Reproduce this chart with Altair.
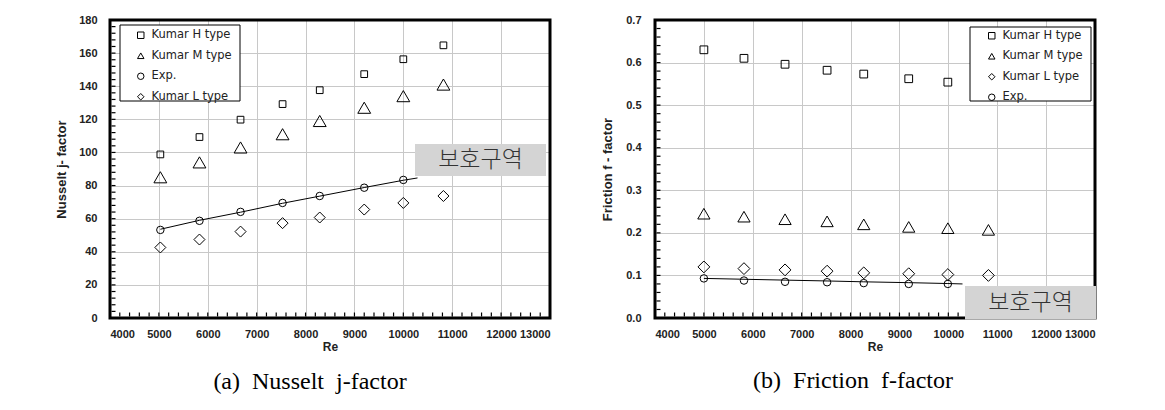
import altair as alt
import pandas as pd

# ---------------- data ----------------
series_H = "Kumar H type"
series_M = "Kumar M type"
series_E = "Exp."
series_L = "Kumar L type"

# (a) Nusselt j-factor
re_a = [5030, 5830, 6670, 7530, 8290, 9200, 10000, 10820]
nu_H = [98.8, 109.3, 119.8, 129.2, 137.6, 147.3, 156.3, 164.7]
nu_M = [85, 94, 103, 111, 119, 127, 134, 141]
nu_L = [42.6, 47.4, 52.2, 57.3, 60.7, 65.5, 69.5, 73.7]
re_a_exp = [5030, 5830, 6670, 7530, 8290, 9200, 10000]
nu_exp = [53.2, 58.7, 64.1, 69.5, 73.7, 78.7, 83.4]
re_a_line = [5030, 5830, 6670, 7530, 8290, 9200, 10000, 10290]
nu_line = [53.6, 59.0, 63.9, 69.3, 73.6, 78.8, 83.2, 84.6]

# (b) Friction f-factor
re_b = [5000, 5820, 6660, 7520, 8270, 9190, 9990, 10820]
f_H = [0.630, 0.610, 0.596, 0.582, 0.573, 0.562, 0.554]
f_M = [0.245, 0.238, 0.232, 0.227, 0.220, 0.214, 0.211, 0.207]
f_L = [0.120, 0.116, 0.113, 0.110, 0.106, 0.104, 0.102, 0.100]
f_exp = [0.093, 0.088, 0.085, 0.084, 0.082, 0.080, 0.080]
re_b_line = [5000, 5820, 6660, 7520, 8270, 9190, 9990, 10290]
f_line = [0.093, 0.091, 0.089, 0.087, 0.085, 0.083, 0.081, 0.080]

x_ticks = list(range(4000, 13001, 1000))
ya_ticks = list(range(0, 181, 20))
yb_ticks = [0.0, 0.1, 0.2, 0.3, 0.4, 0.5, 0.6, 0.7]
x_minor = list(range(4000, 13001, 200))
ya_minor = list(range(0, 181, 4))
yb_minor = [round(i * 0.02, 2) for i in range(36)]

caption_a = "(a)\u00a0\u00a0Nusselt\u00a0\u00a0j-factor"
caption_b = "(b)\u00a0\u00a0Friction\u00a0\u00a0f-factor"
zone_label = "보호구역"

# ---------------- helpers ----------------
W, H = 440, 298
LABEL_FONT = "Liberation Sans"
SHAPES = {series_H: "square", series_M: "triangle-up",
          series_E: "circle", series_L: "diamond"}


def long_df(re, pairs):
    rows = []
    for name, vals in pairs:
        for r, v in zip(re[: len(vals)], vals):
            rows.append({"Re": r, "val": v, "series": name})
    return pd.DataFrame(rows)


def panel(points, line_df, order, sizes, y_dom, y_ticks, y_fmt, y_title,
          y_minor, legend_xy, legend_box, zone_box, caption, cap_xy,
          title_pad, label_pad_y):
    xs = alt.Scale(domain=[4000, 13000], nice=False, zero=False)
    ys = alt.Scale(domain=y_dom, nice=False, zero=False)
    x_axis = alt.Axis(values=x_ticks, format="d", title="Re", grid=True,
                      gridColor="#c8c8c8", gridWidth=1, domain=False,
                      ticks=False, labelPadding=10, titlePadding=2,
                      labelFont=LABEL_FONT, labelFontSize=11,
                      labelFontWeight="bold", labelColor="#222",
                      titleFont=LABEL_FONT, titleFontSize=12,
                      titleFontWeight="bold", titleColor="#222")
    y_axis = alt.Axis(values=y_ticks, format=y_fmt, title=y_title, grid=True,
                      gridColor="#c8c8c8", gridWidth=1, domain=False,
                      ticks=False, labelPadding=label_pad_y,
                      titlePadding=title_pad,
                      labelFont=LABEL_FONT, labelFontSize=11,
                      labelFontWeight="bold", labelColor="#222",
                      titleFont=LABEL_FONT, titleFontSize=13,
                      titleFontWeight="bold", titleColor="#222")
    X = alt.X("Re:Q", scale=xs, axis=x_axis)
    Y = alt.Y("val:Q", scale=ys, axis=y_axis)

    legend = alt.Legend(
        title=None, orient="none", legendX=legend_xy[0],
        legendY=legend_xy[1], padding=0, symbolOffset=0,
        labelOffset=5, rowPadding=7.5, labelFont="DejaVu Sans",
        labelFontSize=11.5, labelColor="#222", symbolSize=42,
        symbolStrokeWidth=1, symbolStrokeColor="black")
    shape_enc = alt.Shape(
        "series:N",
        scale=alt.Scale(domain=order, range=[SHAPES[s] for s in order]),
        legend=legend)

    one = pd.DataFrame({"k": [0]})
    line = alt.Chart(line_df).mark_line(color="black", strokeWidth=1).encode(
        x=X, y=Y)

    point_layers = []
    for s, sz in zip(order, sizes):
        point_layers.append(
            alt.Chart(points).transform_filter(alt.datum.series == s)
            .mark_point(filled=False, color="black", strokeWidth=1,
                        opacity=1, size=sz)
            .encode(x=X, y=Y, shape=shape_enc)
        )

    frame = alt.Chart(one).mark_rect(
        fillOpacity=0, stroke="black", strokeWidth=3
    ).encode(x=alt.value(0), x2=alt.value(W), y=alt.value(0), y2=alt.value(H))

    minor_y = alt.Chart(pd.DataFrame({"val": y_minor})).mark_tick(
        color="black", thickness=1.2, size=4, opacity=1
    ).encode(y=Y, x=alt.value(3.5))
    minor_x = alt.Chart(pd.DataFrame({"Re": x_minor})).mark_tick(
        color="black", thickness=1.2, size=4, opacity=1
    ).encode(x=X, y=alt.value(H - 3.5))

    leg_bg = alt.Chart(one).mark_rect(
        fill="white", stroke="black", strokeWidth=1
    ).encode(x=alt.value(legend_box[0]), x2=alt.value(legend_box[2]),
             y=alt.value(legend_box[1]), y2=alt.value(legend_box[3]))

    zone = alt.Chart(one).mark_rect(fill="#d4d4d4").encode(
        x=alt.value(zone_box[0]), x2=alt.value(zone_box[2]),
        y=alt.value(zone_box[1]), y2=alt.value(zone_box[3]))
    zone_txt = alt.Chart(pd.DataFrame({"t": [zone_label]})).mark_text(
        font="Noto Sans CJK KR", fontSize=23, fontWeight=300, color="#333",
        align="center", baseline="middle"
    ).encode(text="t:N",
             x=alt.value((zone_box[0] + zone_box[2]) / 2),
             y=alt.value((zone_box[1] + zone_box[3]) / 2))

    cap = alt.Chart(pd.DataFrame({"t": [caption]})).mark_text(
        font="Liberation Serif", fontSize=24, color="black",
        align="center", baseline="middle"
    ).encode(text="t:N", x=alt.value(cap_xy[0]), y=alt.value(cap_xy[1]))

    return alt.layer(line, *point_layers, leg_bg, minor_y, minor_x, frame,
                     zone, zone_txt, cap).properties(width=W, height=H)


df_a = long_df(re_a, [(series_H, nu_H), (series_M, nu_M), (series_L, nu_L)])
df_a = pd.concat([df_a, long_df(re_a_exp, [(series_E, nu_exp)])],
                 ignore_index=True)
line_a = pd.DataFrame({"Re": re_a_line, "val": nu_line})

df_b = long_df(re_b, [(series_H, f_H), (series_M, f_M), (series_L, f_L)])
df_b = pd.concat([df_b, long_df(re_b, [(series_E, f_exp)])],
                 ignore_index=True)
line_b = pd.DataFrame({"Re": re_b_line, "val": f_line})

left = panel(df_a, line_a, [series_H, series_M, series_E, series_L],
             [45, 165, 56, 121], [0, 180], ya_ticks, "d",
             "Nusselt j- factor", ya_minor,
             legend_xy=(25, 9.5), legend_box=(10, 5, 130, 81),
             zone_box=(305, 124, 436, 156), caption=caption_a,
             cap_xy=(200, 362), title_pad=10, label_pad_y=13)

right = panel(df_b, line_b, [series_H, series_M, series_L, series_E],
              [60, 150, 140, 56], [0, 0.7], yb_ticks, ".1f",
              "Friction f - factor", yb_minor,
              legend_xy=(331, 10), legend_box=(315, 7, 436, 81),
              zone_box=(310, 266, 441, 299.5), caption=caption_b,
              cap_xy=(198, 361), title_pad=11, label_pad_y=14)

chart = (
    alt.hconcat(left, right, spacing=105, bounds="flush")
    .resolve_scale(shape="independent")
    .resolve_legend(shape="independent")
    .configure(
        padding={"left": 55, "top": 14, "right": 5, "bottom": 5},
        background="white",
    )
    .configure_view(stroke=None)
)

chart.save("out.html", embed_options={"renderer": "svg", "actions": False})
